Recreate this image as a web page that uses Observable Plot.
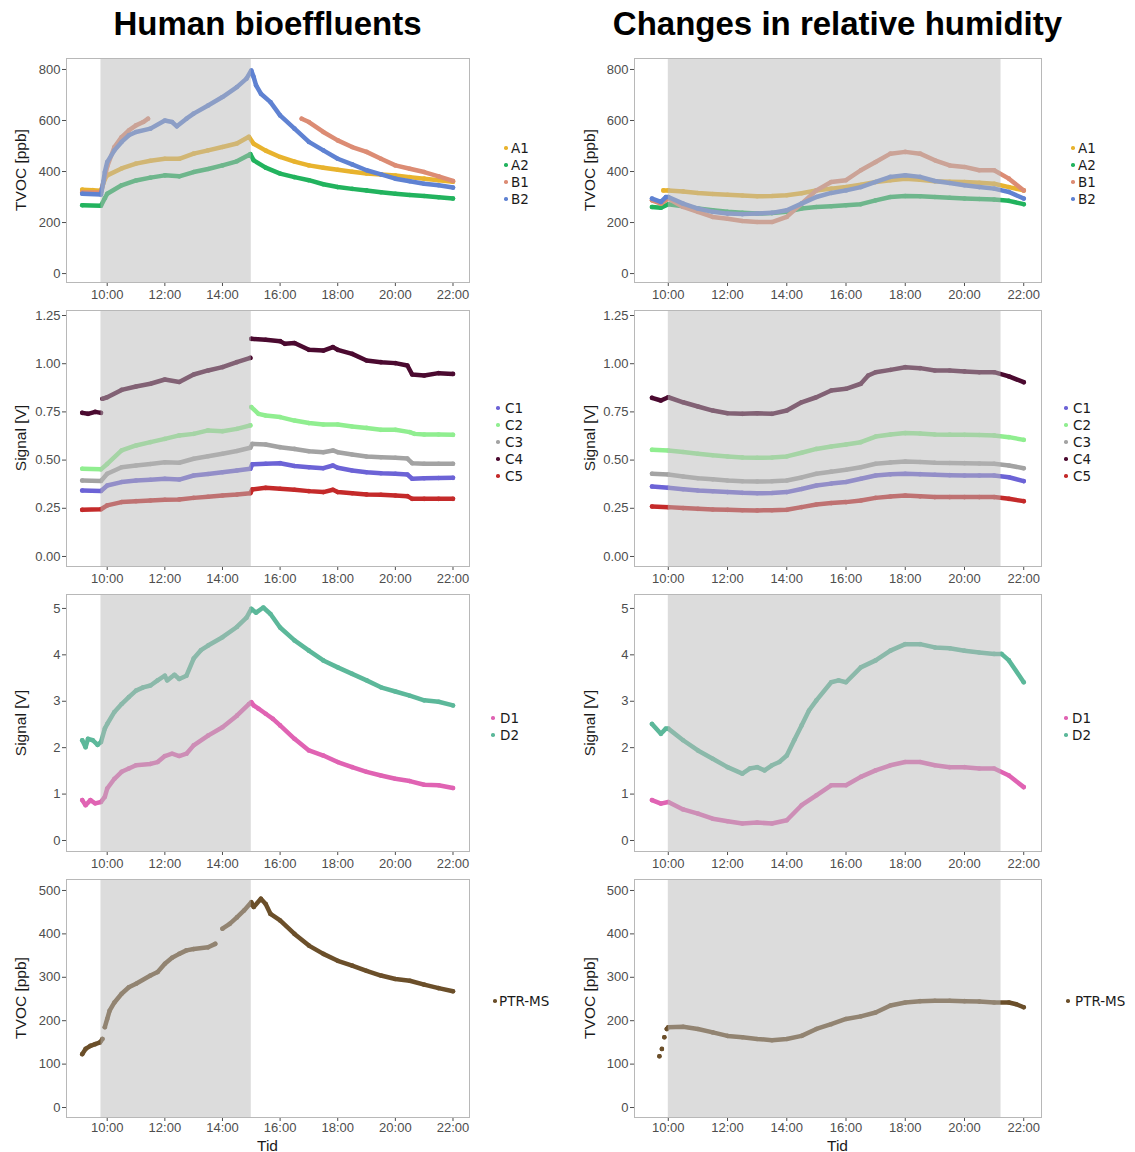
<!DOCTYPE html>
<html><head><meta charset="utf-8">
<script src="https://cdn.jsdelivr.net/npm/d3@7"></script>
<script src="https://cdn.jsdelivr.net/npm/@observablehq/plot@0.6"></script>
<style>
body{margin:0;background:#fff;}
#root{position:relative;width:1135px;height:1152px;overflow:hidden;font-family:"Liberation Sans",Arial,sans-serif;background:#fff;}
.abs{position:absolute;}
.title{font-weight:bold;font-size:33px;line-height:33px;color:#000;white-space:nowrap;transform:translateX(-50%);}
.ylab{font-size:15.5px;line-height:16px;color:#1a1a1a;white-space:nowrap;transform:translate(-50%,-50%) rotate(-90deg);}
.xlab{font-size:15.5px;line-height:13px;color:#1a1a1a;white-space:nowrap;transform:translate(-50%,-50%);}
.leg{font-family:"DejaVu Sans",Verdana,sans-serif;font-size:13.5px;line-height:16px;color:#1a1a1a;white-space:nowrap;}
.legdot{position:absolute;width:3.5px;height:3.5px;border-radius:50%;}
</style></head><body><div id="root"></div>
<script>
// ---------- Data: Human bioeffluents (left column) ----------
const hbA1 = [["9:08",329],["9:30",327],["9:47",325],["9:55",370],["10:00",385],["10:30",412],["11:00",431],["11:30",442],["12:00",450],["12:30",450],["13:00",470],["13:30",483],["14:00",496],["14:30",510],["14:55",536],["15:05",509],["15:30",482],["16:00",457],["16:30",439],["17:00",424],["17:30",415],["18:00",407],["18:30",399],["19:00",392],["19:30",388],["20:00",384],["20:30",378],["21:00",372],["21:30",366],["22:00",360]];
const hbA2 = [["9:08",268],["9:47",266],["9:55",295],["10:00",313],["10:30",346],["11:00",365],["11:30",376],["12:00",385],["12:30",381],["13:00",398],["13:30",410],["14:00",424],["14:30",440],["14:58",468],["15:05",444],["15:30",415],["16:00",392],["16:30",378],["17:00",366],["17:30",350],["18:00",339],["18:30",332],["19:00",326],["19:30",319],["20:00",313],["20:30",308],["21:00",304],["21:30",299],["22:00",294]];
const hbB1 = [["9:08",318],["9:47",318],["9:55",380],["10:00",420],["10:15",496],["10:30",535],["10:45",561],["11:00",581],["11:15",594],["11:25",607],null,["16:45",607],["17:00",594],["17:30",555],["18:00",522],["18:30",496],["19:00",477],["19:30",450],["20:00",424],["20:30",411],["21:00",398],["21:30",381],["22:00",363]];
const hbB2 = [["9:08",313],["9:47",310],["9:52",360],["9:55",398],["10:00",437],["10:15",483],["10:30",516],["10:45",542],["11:00",555],["11:30",568],["12:00",600],["12:15",594],["12:25",577],["12:45",607],["13:00",627],["13:30",659],["14:00",692],["14:30",731],["14:50",764],["15:00",796],["15:05",770],["15:10",738],["15:20",705],["15:40",672],["16:00",620],["16:30",568],["17:00",516],["17:30",483],["18:00",450],["18:30",428],["19:00",405],["19:30",389],["20:00",372],["20:30",362],["21:00",352],["21:30",346],["22:00",337]];

const hbC1 = [["9:08",0.342],["9:47",0.340],["10:00",0.368],["10:30",0.386],["11:00",0.394],["11:30",0.398],["12:00",0.403],["12:30",0.399],["13:00",0.42],["13:30",0.428],["14:00",0.437],["14:30",0.446],["14:58",0.455],["15:02",0.478],["15:30",0.481],["16:00",0.484],["16:30",0.469],["17:00",0.463],["17:30",0.458],["17:50",0.472],["18:00",0.46],["18:30",0.446],["19:00",0.437],["19:30",0.432],["20:00",0.429],["20:25",0.425],["20:35",0.403],["21:00",0.406],["21:30",0.407],["22:00",0.408]];
const hbC2 = [["9:08",0.455],["9:47",0.452],["10:00",0.48],["10:30",0.55],["11:00",0.576],["11:30",0.593],["12:00",0.61],["12:30",0.628],["13:00",0.636],["13:30",0.654],["14:00",0.65],["14:30",0.662],["14:58",0.68],null,["15:00",0.775],["15:15",0.74],["15:30",0.731],["16:00",0.723],["16:30",0.705],["17:00",0.692],["17:30",0.685],["18:00",0.685],["18:30",0.674],["19:00",0.667],["19:30",0.657],["20:00",0.657],["20:30",0.645],["20:40",0.636],["21:00",0.633],["21:30",0.633],["22:00",0.631]];
const hbC3 = [["9:08",0.394],["9:47",0.392],["10:00",0.429],["10:30",0.463],["11:00",0.472],["11:30",0.48],["12:00",0.489],["12:30",0.486],["13:00",0.507],["13:30",0.52],["14:00",0.533],["14:30",0.547],["14:58",0.564],["15:02",0.584],["15:30",0.581],["16:00",0.567],["16:30",0.558],["17:00",0.546],["17:30",0.541],["17:50",0.55],["18:00",0.541],["18:30",0.529],["19:00",0.519],["19:30",0.515],["20:00",0.512],["20:25",0.508],["20:35",0.484],["21:00",0.481],["21:30",0.481],["22:00",0.481]];
const hbC4 = [["9:08",0.745],["9:20",0.74],["9:35",0.75],["9:47",0.745],null,["9:50",0.818],["10:00",0.826],["10:30",0.864],["11:00",0.882],["11:30",0.896],["12:00",0.918],["12:30",0.905],["13:00",0.944],["13:30",0.965],["14:00",0.982],["14:30",1.008],["14:58",1.03],null,["15:00",1.129],["15:30",1.124],["16:00",1.117],["16:10",1.103],["16:30",1.107],["17:00",1.072],["17:30",1.068],["17:50",1.086],["18:00",1.072],["18:30",1.051],["19:00",1.017],["19:30",1.008],["20:00",1.003],["20:25",0.991],["20:35",0.944],["21:00",0.939],["21:30",0.951],["22:00",0.947]];
const hbC5 = [["9:08",0.242],["9:47",0.245],["10:00",0.265],["10:30",0.282],["11:00",0.287],["11:30",0.29],["12:00",0.294],["12:30",0.296],["13:00",0.304],["13:30",0.31],["14:00",0.316],["14:30",0.321],["14:58",0.328],["15:02",0.348],["15:30",0.356],["16:00",0.351],["16:30",0.346],["17:00",0.339],["17:30",0.334],["17:50",0.346],["18:00",0.334],["18:30",0.328],["19:00",0.322],["19:30",0.32],["20:00",0.316],["20:25",0.313],["20:35",0.299],["21:00",0.299],["21:30",0.299],["22:00",0.299]];

const hbD1 = [["9:08",0.87],["9:15",0.76],["9:25",0.87],["9:35",0.80],["9:47",0.83],["9:55",0.94],["10:00",1.12],["10:15",1.33],["10:30",1.48],["10:45",1.55],["11:00",1.62],["11:30",1.65],["11:45",1.69],["12:00",1.82],["12:15",1.87],["12:30",1.82],["12:45",1.87],["13:00",2.05],["13:30",2.26],["14:00",2.44],["14:30",2.69],["14:55",2.94],["15:00",2.98],["15:05",2.91],["15:15",2.84],["15:30",2.73],["15:45",2.62],["16:00",2.48],["16:30",2.19],["17:00",1.94],["17:30",1.83],["18:00",1.69],["18:30",1.58],["19:00",1.48],["19:30",1.40],["20:00",1.33],["20:30",1.28],["21:00",1.20],["21:30",1.19],["22:00",1.13]];
const hbD2 = [["9:08",2.16],["9:15",2.01],["9:20",2.19],["9:30",2.16],["9:40",2.06],["9:47",2.12],["9:55",2.41],["10:00",2.51],["10:15",2.77],["10:30",2.94],["10:45",3.09],["11:00",3.23],["11:15",3.30],["11:30",3.34],["11:45",3.45],["12:00",3.55],["12:05",3.45],["12:20",3.57],["12:30",3.48],["12:45",3.55],["13:00",3.92],["13:15",4.10],["13:30",4.20],["14:00",4.38],["14:30",4.60],["14:50",4.80],["15:00",4.99],["15:10",4.91],["15:25",5.02],["15:40",4.88],["16:00",4.59],["16:30",4.31],["17:00",4.09],["17:30",3.88],["18:00",3.73],["18:30",3.59],["19:00",3.45],["19:30",3.30],["20:00",3.21],["20:30",3.12],["21:00",3.02],["21:30",2.99],["22:00",2.91]];

const hbPTR = [["9:08",123],["9:15",135],["9:25",142],["9:35",146],["9:45",150],["9:50",158],null,["9:55",185],["10:00",204],["10:05",223],["10:15",242],["10:30",262],["10:45",277],["11:00",285],["11:30",304],["11:45",312],["12:00",331],["12:15",345],["12:30",354],["12:45",362],["13:00",365],["13:30",369],["13:45",377],null,["14:00",412],["14:15",423],["14:30",438],["14:45",454],["15:00",473],["15:05",462],["15:20",481],["15:30",469],["15:40",446],["16:00",431],["16:30",400],["17:00",373],["17:30",354],["18:00",338],["18:30",327],["19:00",315],["19:30",304],["20:00",296],["20:30",292],["21:00",283],["21:30",275],["22:00",268]];

// ---------- Data: Changes in relative humidity (right column) ----------
const rhA1 = [["9:50",326],["10:00",326],["10:30",322],["11:00",316],["11:30",312],["12:00",309],["12:30",306],["13:00",303],["13:30",304],["14:00",307],["14:30",315],["15:00",326],["15:30",333],["16:00",339],["16:30",348],["17:00",359],["17:30",366],["18:00",372],["18:30",368],["19:00",362],["19:30",360],["20:00",359],["20:30",356],["21:00",352],["21:30",339],["22:00",326]];
const rhA2 = [["9:27",261],["9:45",258],["10:00",272],["10:30",264],["11:00",255],["11:30",248],["12:00",242],["12:30",238],["13:00",235],["13:30",237],["14:00",242],["14:30",255],["15:00",261],["15:30",264],["16:00",268],["16:30",272],["17:00",287],["17:30",300],["18:00",304],["18:30",303],["19:00",300],["19:30",297],["20:00",294],["20:30",292],["21:00",290],["21:30",285],["22:00",272]];
const rhB1 = [["9:27",287],["9:45",274],["10:00",294],["10:30",261],["11:00",242],["11:30",222],["12:00",215],["12:30",206],["13:00",202],["13:30",202],["14:00",222],["14:30",274],["15:00",326],["15:30",359],["16:00",366],["16:30",405],["17:00",437],["17:30",470],["18:00",477],["18:30",470],["19:00",444],["19:30",424],["20:00",418],["20:30",405],["21:00",405],["21:30",372],["22:00",326]];
const rhB2 = [["9:27",294],["9:45",281],["9:55",300],["10:00",300],["10:30",274],["11:00",255],["11:30",242],["12:00",235],["12:30",233],["13:00",235],["13:30",238],["14:00",248],["14:30",274],["15:00",300],["15:30",316],["16:00",326],["16:30",339],["17:00",359],["17:30",379],["18:00",385],["18:30",379],["19:00",363],["19:30",355],["20:00",346],["20:30",339],["21:00",333],["21:30",320],["22:00",294]];

const rhC1 = [["9:27",0.363],["10:00",0.356],["10:30",0.349],["11:00",0.342],["11:30",0.338],["12:00",0.334],["12:30",0.33],["13:00",0.328],["13:30",0.329],["14:00",0.334],["14:30",0.35],["15:00",0.368],["15:30",0.378],["16:00",0.386],["16:30",0.403],["17:00",0.42],["17:30",0.426],["18:00",0.429],["18:30",0.427],["19:00",0.424],["19:30",0.422],["20:00",0.42],["20:30",0.42],["21:00",0.42],["21:30",0.411],["22:00",0.391]];
const rhC2 = [["9:27",0.553],["10:00",0.55],["10:30",0.542],["11:00",0.533],["11:30",0.525],["12:00",0.519],["12:30",0.514],["13:00",0.512],["13:30",0.513],["14:00",0.519],["14:30",0.538],["15:00",0.558],["15:30",0.57],["16:00",0.581],["16:30",0.593],["17:00",0.622],["17:30",0.633],["18:00",0.64],["18:30",0.638],["19:00",0.633],["19:30",0.632],["20:00",0.631],["20:30",0.63],["21:00",0.628],["21:30",0.619],["22:00",0.605]];
const rhC3 = [["9:27",0.429],["10:00",0.425],["10:30",0.415],["11:00",0.406],["11:30",0.4],["12:00",0.394],["12:30",0.39],["13:00",0.389],["13:30",0.39],["14:00",0.394],["14:30",0.41],["15:00",0.429],["15:30",0.44],["16:00",0.45],["16:30",0.463],["17:00",0.481],["17:30",0.488],["18:00",0.493],["18:30",0.49],["19:00",0.486],["19:30",0.485],["20:00",0.484],["20:30",0.482],["21:00",0.481],["21:30",0.472],["22:00",0.458]];
const rhC4 = [["9:27",0.823],["9:45",0.809],["10:00",0.826],["10:30",0.80],["11:00",0.778],["11:30",0.757],["12:00",0.743],["12:30",0.74],["13:00",0.743],["13:30",0.74],["14:00",0.757],["14:30",0.80],["15:00",0.826],["15:30",0.861],["16:00",0.87],["16:30",0.896],["16:45",0.939],["17:00",0.956],["17:30",0.968],["18:00",0.982],["18:30",0.977],["19:00",0.965],["19:30",0.965],["20:00",0.96],["20:30",0.956],["21:00",0.956],["21:30",0.934],["22:00",0.904]];
const rhC5 = [["9:27",0.259],["10:00",0.256],["10:30",0.251],["11:00",0.247],["11:30",0.244],["12:00",0.242],["12:30",0.24],["13:00",0.239],["13:30",0.24],["14:00",0.242],["14:30",0.256],["15:00",0.27],["15:30",0.277],["16:00",0.282],["16:30",0.29],["17:00",0.304],["17:30",0.311],["18:00",0.316],["18:30",0.312],["19:00",0.308],["19:30",0.308],["20:00",0.308],["20:30",0.308],["21:00",0.308],["21:30",0.299],["22:00",0.287]];

const rhD1 = [["9:27",0.87],["9:45",0.795],["10:00",0.83],["10:30",0.67],["11:00",0.58],["11:30",0.47],["12:00",0.415],["12:30",0.365],["13:00",0.387],["13:30",0.365],["14:00",0.437],["14:30",0.76],["15:00",0.974],["15:30",1.19],["16:00",1.19],["16:30",1.37],["17:00",1.51],["17:30",1.62],["18:00",1.69],["18:30",1.69],["19:00",1.62],["19:30",1.58],["20:00",1.58],["20:30",1.55],["21:00",1.55],["21:30",1.40],["22:00",1.15]];
const rhD2 = [["9:27",2.51],["9:45",2.30],["9:55",2.41],["10:00",2.41],["10:30",2.16],["11:00",1.94],["11:30",1.76],["12:00",1.58],["12:30",1.44],["12:45",1.55],["13:00",1.58],["13:15",1.51],["13:30",1.62],["13:45",1.69],["14:00",1.83],["14:15",2.16],["14:30",2.48],["14:45",2.80],["15:00",3.02],["15:30",3.41],["15:45",3.45],["16:00",3.41],["16:30",3.73],["17:00",3.88],["17:30",4.09],["18:00",4.23],["18:30",4.23],["19:00",4.16],["19:30",4.14],["20:00",4.09],["20:30",4.05],["21:00",4.02],["21:15",4.02],["21:30",3.88],["22:00",3.41]];

const rhPTR = [["9:42",118],null,["9:47",135],null,["9:52",162],null,["9:57",181],["10:00",185],["10:30",186],["11:00",181],["11:30",173],["12:00",165],["12:30",162],["13:00",158],["13:30",155],["14:00",158],["14:30",165],["15:00",181],["15:30",192],["16:00",204],["16:30",210],["17:00",219],["17:30",235],["18:00",242],["18:30",245],["19:00",246],["19:30",246],["20:00",245],["20:30",244],["21:00",242],["21:30",242],["21:45",238],["22:00",231]];

// shaded exposure periods
const shadeLeft = ["9:47", "15:00"];
const shadeRight = ["10:00", "21:14"];

// categories & colours
const groupA = ["A1", "A2", "B1", "B2"];
const groupC = ["C1", "C2", "C3", "C4", "C5"];
const groupD = ["D1", "D2"];
const groupP = ["PTR-MS"];
const colorsA = ["#e8b32e", "#22b35e", "#dc8c74", "#5f82d2"];
const colorsC = ["#6c63d6", "#90ee90", "#a3a3a3", "#4b0a30", "#c42a2a"];
const colorsD = ["#e063b3", "#5cb89a"];
const colorsP = ["#6b4f2a"];

// axis ticks
const xTickHours = [10, 12, 14, 16, 18, 20, 22];
const yTicksTVOC1 = [0, 200, 400, 600, 800];
const yTicksSignalC = [0, 0.25, 0.5, 0.75, 1, 1.25];
const yTicksSignalD = [0, 1, 2, 3, 4, 5];
const yTicksTVOC2 = [0, 100, 200, 300, 400, 500];

const titles = ["Human bioeffluents", "Changes in relative humidity"];
const yLabels = ["TVOC [ppb]", "Signal [V]", "Signal [V]", "TVOC [ppb]"];
const xLabel = "Tid";

// ---------- layout ----------
const parseT = s => { const [h, m] = s.split(":").map(Number); return h + m / 60; };
const root = document.getElementById("root");

const cols = [
  {left: 0, width: 570, marginLeft: 66, marginRight: 101, xDomain: [8.587, 22.573], shade: shadeLeft,
   data: [[hbA1, hbA2, hbB1, hbB2], [hbC1, hbC2, hbC3, hbC4, hbC5], [hbD1, hbD2], [hbPTR]],
   legend: [{dot: 506, text: 511}, {dot: 498, text: 505}, {dot: 493, text: 500}, {dot: 495, text: 499}]},
  {left: 570, width: 565, marginLeft: 64, marginRight: 94, xDomain: [8.859, 22.60], shade: shadeRight,
   data: [[rhA1, rhA2, rhB1, rhB2], [rhC1, rhC2, rhC3, rhC4, rhC5], [rhD1, rhD2], [rhPTR]],
   legend: [{dot: 1073, text: 1078}, {dot: 1066, text: 1073}, {dot: 1066, text: 1072}, {dot: 1068, text: 1075}]}
];
const rows = [
  {top: 58, h: 224, yDomain: [-35, 843], ticks: yTicksTVOC1, fmt: d => String(d), names: groupA, colors: colorsA, legY: 148, pad: 3},
  {top: 310, h: 256, yDomain: [-0.052, 1.276], ticks: yTicksSignalC, fmt: d => d.toFixed(2), names: groupC, colors: colorsC, legY: 408, pad: 3},
  {top: 594, h: 257, yDomain: [-0.237, 5.30], ticks: yTicksSignalD, fmt: d => String(d), names: groupD, colors: colorsD, legY: 718, pad: 3},
  {top: 879, h: 238, yDomain: [-23, 525.3], ticks: yTicksTVOC2, fmt: d => String(d), names: groupP, colors: colorsP, legY: 1001, pad: 1}
];

function toRows(arr) {
  return arr.map(p => p === null ? {h: NaN, v: NaN} : {h: parseT(p[0]), v: p[1]});
}

function add(cls, x, y, text) {
  const d = document.createElement("div");
  d.className = "abs " + cls;
  d.style.left = x + "px";
  d.style.top = y + "px";
  if (text !== undefined) d.textContent = text;
  root.appendChild(d);
  return d;
}

cols.forEach((c, ci) => {
  const frameCx = c.left + c.marginLeft + (c.width - c.marginLeft - c.marginRight) / 2;
  add("title", frameCx, 7, titles[ci]);
  rows.forEach((r, ri) => {
    const mt = 8, mb = 30;
    const marks = [];
    c.data[ri].forEach((series, si) => {
      const rowsData = toRows(series);
      marks.push(Plot.line(rowsData, {x: "h", y: "v", stroke: r.colors[si], strokeWidth: 4.5, strokeLinejoin: "round", strokeLinecap: "round"}));
      marks.push(Plot.dot(rowsData.filter(d => !isNaN(d.v)), {x: "h", y: "v", r: 2.3, fill: r.colors[si]}));
    });
    marks.push(Plot.rect([c.shade], {x1: d => parseT(d[0]), x2: d => parseT(d[1]), y1: r.yDomain[0], y2: r.yDomain[1], fill: "#b9b9b9", fillOpacity: 0.5}));
    marks.push(Plot.frame({stroke: "#b8b8b8", strokeWidth: 1}));
    const svg = Plot.plot({
      width: c.width,
      height: r.h + mt + mb,
      marginLeft: c.marginLeft, marginRight: c.marginRight, marginTop: mt, marginBottom: mb,
      style: {background: "transparent", overflow: "visible", fontFamily: "'Liberation Sans', Arial, sans-serif", fontSize: "13px", color: "#4d4d4d"},
      x: {domain: c.xDomain, ticks: xTickHours, tickFormat: d => `${d}:00`, tickSize: 4, tickPadding: r.pad, label: null},
      y: {domain: r.yDomain, ticks: r.ticks, tickFormat: r.fmt, tickSize: 4, tickPadding: 2, label: null},
      marks
    });
    const holder = add("", c.left, r.top - mt);
    holder.appendChild(svg);
    // y label
    add("ylab", c.left === 0 ? 21 : 590, r.top + r.h / 2, yLabels[ri]);
    // legend
    const lg = c.legend[ri];
    r.names.forEach((n, ni) => {
      const cy = r.legY + ni * 17;
      const dot = add("legdot", lg.dot - 1.75, cy - 1.75);
      dot.style.background = r.colors[ni];
      add("leg", lg.text, cy - 8, n);
    });
  });
  add("xlab", frameCx, 1145, xLabel);
});
</script>
</body></html>
